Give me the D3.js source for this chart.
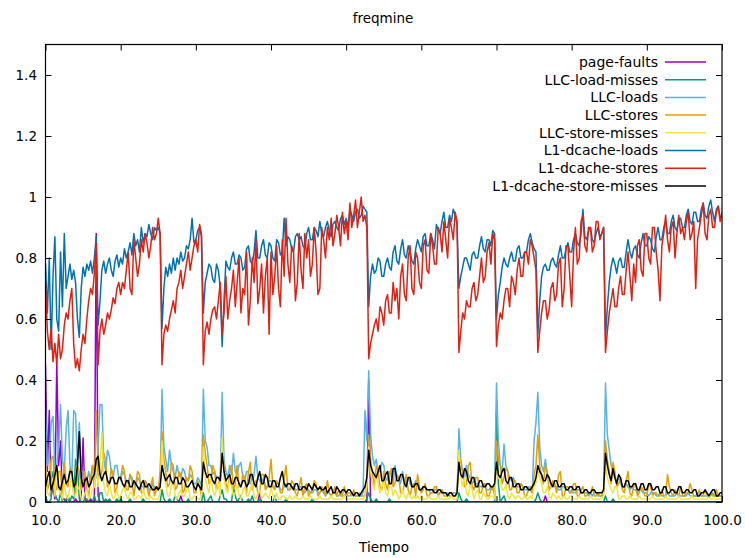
<!DOCTYPE html>
<html>
<head>
<meta charset="utf-8">
<script src="https://cdn.jsdelivr.net/npm/d3@7"></script>
<style>
  body { margin: 0; background: #fff; }
  text { font-family: "DejaVu Sans", sans-serif; }
</style>
</head>
<body>
<svg id="chart" width="745" height="558"></svg>
<script>
// Sampling grid (seconds)
const startTime = 10;
const sampleStep = 0.25;

// Series names and colours, in drawing order
const seriesNames = ["page-faults", "LLC-load-misses", "LLC-loads", "LLC-stores",
  "LLC-store-misses", "L1-dcache-loads", "L1-dcache-stores", "L1-dcache-store-misses"];
const seriesColors = ["#9400d3", "#009e73", "#56b4e9", "#e69f00",
  "#f0e442", "#0072b2", "#e51e10", "#000000"];

// Axis ticks
const xTicks = [10, 20, 30, 40, 50, 60, 70, 80, 90, 100];
const yTicks = [0, 0.2, 0.4, 0.6, 0.8, 1, 1.2, 1.4];

// Normalised counter values, one per sample (10 per row)
const pageFaults = [
  0.45,0.10,0.30,0.02,0.05,0.01,0.46,0.12,0.20,0.01,
  0.01,0,0.02,0,0,0,0.01,0,0,0.02,
  0.21,0.01,0,0,0.01,0,0,0.88,0.02,0,
  0,0,0,0,0,0,0,0,0,0,
  0,0,0,0,0,0,0,0,0,0,
  0,0,0,0,0,0,0,0,0,0,
  0,0,0,0,0,0,0,0,0,0,
  0,0,0.02,0,0,0,0,0,0,0,
  0,0,0,0,0,0,0,0,0,0,
  0,0,0,0,0,0,0,0,0,0,
  0,0,0,0,0,0,0,0,0,0,
  0,0,0,0,0.03,0,0,0,0,0,
  0,0,0,0,0,0,0,0,0,0,
  0,0,0,0,0,0,0,0,0,0,
  0,0,0,0,0,0,0,0,0,0,
  0,0,0,0,0,0,0,0,0,0,
  0,0,0,0,0,0,0,0,0,0,
  0,0,0.40,0,0,0,0,0,0,0,
  0,0,0,0,0,0,0,0,0,0,
  0,0,0,0,0,0,0,0,0,0,
  0,0,0,0,0,0,0,0,0,0,
  0,0,0,0,0,0,0,0,0,0,
  0,0,0,0,0,0,0,0,0,0,
  0,0,0,0,0,0,0,0,0,0,
  0,0,0,0,0,0,0,0,0,0,
  0,0,0,0,0,0,0,0,0,0,
  0,0,0,0,0,0,0.02,0,0,0,
  0,0,0,0,0,0,0,0,0,0,
  0,0,0,0,0,0,0,0,0,0,
  0,0,0,0,0,0,0,0,0,0,
  0,0,0,0,0,0,0,0,0,0,
  0,0,0,0,0,0,0,0,0,0,
  0,0,0,0,0,0,0,0,0,0,
  0,0,0,0,0,0,0,0,0,0,
  0,0,0,0,0,0,0,0,0,0,
  0,0,0,0,0,0,0,0,0,0,
  0
];
const llcLoadMisses = [
  0.02,0,0,0.01,0.10,0.03,0.01,0,0.03,0,
  0,0.01,0.01,0,0.02,0.01,0.14,0.12,0.01,0,
  0,0.01,0.01,0,0,0,0.02,0,0,0.03,
  0.03,0,0.01,0,0.01,0,0,0,0.01,0,
  0.01,0,0,0,0,0.01,0,0,0,0,
  0,0,0.01,0,0,0,0,0,0,0,
  0,0,0.04,0.01,0,0,0.01,0,0,0.02,
  0.01,0,0,0,0,0,0.01,0,0,0,
  0,0,0,0,0.03,0,0,0.01,0.02,0,
  0,0,0,0.02,0.04,0.01,0.01,0,0,0,
  0.05,0.02,0,0.01,0.02,0,0,0,0.01,0,
  0.02,0,0,0,0.01,0,0,0,0,0,
  0,0,0.02,0,0,0,0,0,0.01,0,
  0,0,0,0,0,0,0,0,0,0,
  0,0,0.01,0,0,0,0,0,0,0,
  0,0,0,0,0,0,0,0,0,0,
  0,0,0,0,0,0,0,0,0,0,
  0,0.01,0.03,0.01,0,0,0.01,0,0,0,
  0,0,0,0.01,0,0,0,0,0,0,
  0,0,0,0,0,0,0,0,0,0,
  0,0,0,0,0,0,0,0,0,0,
  0,0,0,0,0,0,0,0,0,0,
  0.03,0.01,0,0,0.01,0,0,0,0,0,
  0,0,0,0,0,0,0,0,0,0,
  0.30,0.06,0,0.01,0.02,0,0,0,0,0,
  0,0,0,0,0,0,0,0,0,0,
  0,0.01,0.03,0.01,0,0,0,0,0,0,
  0,0,0,0,0,0,0,0,0,0,
  0,0,0,0,0,0,0,0,0,0,
  0,0,0,0,0,0,0,0,0.02,0,
  0,0,0.01,0,0,0,0,0,0,0,
  0,0,0,0,0,0,0,0,0,0,
  0,0,0,0,0,0,0,0,0,0,
  0,0,0,0,0,0,0,0,0,0,
  0,0,0,0,0,0,0,0,0,0,
  0,0,0,0,0,0,0,0,0,0,
  0
];
const llcLoads = [
  0.30,0.12,0.15,0.26,0.28,0.10,0.12,0.18,0.32,0.14,
  0.10,0.24,0.30,0.12,0.08,0.30,0.29,0.12,0.26,0.10,
  0.10,0.08,0.07,0.10,0.06,0.12,0.10,0.08,0.18,0.32,
  0.32,0.14,0.10,0.17,0.15,0.10,0.08,0.12,0.12,0.08,
  0.07,0.10,0.09,0.07,0.06,0.09,0.08,0.06,0.05,0.08,
  0.07,0.05,0.05,0.07,0.06,0.04,0.04,0.06,0.05,0.04,
  0.05,0.06,0.37,0.18,0.14,0.10,0.17,0.12,0.10,0.08,
  0.12,0.09,0.08,0.11,0.10,0.07,0.07,0.09,0.08,0.06,
  0.06,0.08,0.07,0.05,0.37,0.20,0.18,0.12,0.12,0.09,
  0.10,0.08,0.08,0.07,0.36,0.14,0.10,0.08,0.12,0.09,
  0.16,0.10,0.09,0.12,0.13,0.08,0.07,0.10,0.10,0.06,
  0.06,0.09,0.15,0.08,0.07,0.06,0.08,0.05,0.05,0.07,
  0.07,0.05,0.05,0.06,0.06,0.04,0.04,0.05,0.06,0.04,
  0.04,0.05,0.05,0.04,0.04,0.05,0.05,0.03,0.03,0.04,
  0.04,0.03,0.03,0.04,0.04,0.03,0.03,0.04,0.03,0.02,
  0.03,0.03,0.02,0.03,0.03,0.02,0.02,0.03,0.02,0.02,
  0.03,0.02,0.02,0.03,0.03,0.02,0.02,0.02,0.02,0.03,
  0.30,0.20,0.43,0.22,0.15,0.12,0.14,0.10,0.10,0.13,
  0.12,0.08,0.07,0.10,0.09,0.06,0.12,0.08,0.08,0.06,
  0.10,0.07,0.06,0.08,0.06,0.05,0.05,0.07,0.06,0.04,
  0.04,0.05,0.05,0.04,0.04,0.03,0.03,0.04,0.04,0.03,
  0.03,0.04,0.03,0.03,0.03,0.02,0.02,0.03,0.03,0.02,
  0.24,0.14,0.10,0.08,0.12,0.09,0.08,0.06,0.07,0.06,
  0.06,0.05,0.05,0.06,0.05,0.04,0.04,0.05,0.04,0.04,
  0.39,0.20,0.12,0.10,0.19,0.12,0.10,0.08,0.07,0.08,
  0.06,0.05,0.05,0.06,0.05,0.04,0.04,0.05,0.04,0.03,
  0.20,0.26,0.36,0.18,0.12,0.10,0.14,0.09,0.08,0.06,
  0.06,0.05,0.05,0.04,0.04,0.05,0.05,0.04,0.04,0.03,
  0.04,0.03,0.03,0.04,0.04,0.03,0.03,0.03,0.03,0.02,
  0.03,0.02,0.03,0.03,0.02,0.02,0.02,0.03,0.39,0.22,
  0.17,0.12,0.10,0.08,0.07,0.08,0.06,0.05,0.05,0.06,
  0.05,0.04,0.05,0.04,0.04,0.03,0.04,0.04,0.03,0.03,
  0.03,0.02,0.03,0.03,0.03,0.02,0.02,0.03,0.02,0.02,
  0.02,0.03,0.02,0.02,0.02,0.02,0.03,0.02,0.02,0.02,
  0.02,0.02,0.03,0.02,0.02,0.02,0.02,0.02,0.03,0.02,
  0.02,0.02,0.02,0.02,0.02,0.03,0.02,0.02,0.02,0.02,
  0.02
];
const llcStores = [
  0.12,0.04,0.06,0.14,0.15,0.05,0.04,0.10,0.10,0.02,
  0.13,0.06,0.05,0.11,0.09,0.03,0.03,0.12,0.10,0.04,
  0.07,0.10,0.04,0.02,0.08,0.12,0.05,0.30,0.12,0.08,
  0.10,0.16,0.14,0.05,0.06,0.11,0.09,0.03,0.05,0.08,
  0.08,0.12,0.10,0.04,0.04,0.09,0.07,0.02,0.06,0.10,
  0.09,0.03,0.03,0.07,0.05,0.02,0.05,0.08,0.02,0.04,
  0.04,0.10,0.23,0.14,0.10,0.05,0.06,0.13,0.12,0.04,
  0.05,0.10,0.09,0.03,0.04,0.08,0.07,0.12,0.10,0.03,
  0.03,0.07,0.05,0.02,0.22,0.16,0.12,0.06,0.07,0.12,
  0.10,0.04,0.05,0.09,0.20,0.11,0.06,0.04,0.10,0.12,
  0.04,0.06,0.12,0.05,0.05,0.09,0.08,0.03,0.10,0.13,
  0.04,0.06,0.07,0.03,0.03,0.09,0.09,0.04,0.05,0.08,
  0.14,0.05,0.04,0.07,0.06,0.03,0.03,0.08,0.12,0.04,
  0.04,0.07,0.06,0.03,0.02,0.05,0.08,0.02,0.05,0.06,
  0.02,0.03,0.04,0.07,0.06,0.02,0.03,0.05,0.04,0.02,
  0.07,0.03,0.02,0.03,0.05,0.02,0.04,0.02,0.02,0.05,
  0.02,0.03,0.03,0.02,0.04,0.02,0.02,0.03,0.02,0.02,
  0.02,0.08,0.22,0.14,0.09,0.05,0.12,0.10,0.05,0.04,
  0.10,0.06,0.04,0.08,0.11,0.05,0.06,0.09,0.08,0.03,
  0.03,0.06,0.09,0.04,0.02,0.05,0.06,0.02,0.09,0.05,
  0.03,0.04,0.06,0.02,0.02,0.03,0.03,0.05,0.05,0.02,
  0.03,0.04,0.02,0.02,0.02,0.03,0.03,0.02,0.02,0.03,
  0.16,0.12,0.10,0.05,0.06,0.12,0.13,0.05,0.04,0.08,
  0.08,0.03,0.03,0.06,0.06,0.02,0.02,0.04,0.05,0.02,
  0.20,0.14,0.12,0.06,0.08,0.11,0.10,0.04,0.04,0.07,
  0.07,0.03,0.03,0.06,0.05,0.02,0.02,0.04,0.05,0.03,
  0.09,0.12,0.22,0.12,0.08,0.06,0.12,0.10,0.04,0.05,
  0.07,0.06,0.03,0.09,0.10,0.02,0.02,0.05,0.05,0.03,
  0.03,0.06,0.06,0.02,0.02,0.04,0.05,0.02,0.02,0.03,
  0.03,0.05,0.02,0.02,0.03,0.02,0.02,0.04,0.20,0.14,
  0.10,0.06,0.13,0.10,0.05,0.06,0.08,0.04,0.03,0.07,
  0.10,0.03,0.02,0.05,0.06,0.02,0.03,0.05,0.04,0.02,
  0.02,0.06,0.05,0.02,0.03,0.03,0.02,0.02,0.04,0.02,
  0.02,0.09,0.05,0.03,0.02,0.04,0.03,0.02,0.05,0.02,
  0.02,0.03,0.03,0.06,0.04,0.02,0.02,0.03,0.04,0.02,
  0.02,0.04,0.02,0.02,0.03,0.02,0.02,0.04,0.02,0.02,
  0.02
];
const llcStoreMisses = [
  0.10,0.03,0.02,0.06,0.08,0.02,0.12,0.04,0.03,0.01,
  0.06,0.02,0.01,0.05,0.09,0.02,0.02,0.04,0.05,0.01,
  0.01,0.03,0.04,0.01,0.02,0.04,0.05,0.12,0.05,0.12,
  0.23,0.06,0.03,0.02,0.06,0.03,0.01,0.02,0.04,0.01,
  0.02,0.04,0.05,0.02,0.01,0.03,0.03,0.01,0.01,0.02,
  0.02,0.01,0.04,0.02,0.01,0.01,0.02,0.01,0.01,0.01,
  0.01,0.03,0.20,0.08,0.06,0.02,0.02,0.05,0.07,0.02,
  0.01,0.03,0.04,0.02,0.02,0.04,0.05,0.01,0.01,0.02,
  0.02,0.01,0.01,0.02,0.18,0.08,0.05,0.03,0.08,0.04,
  0.02,0.04,0.06,0.02,0.21,0.08,0.04,0.03,0.08,0.05,
  0.02,0.03,0.06,0.02,0.01,0.04,0.05,0.02,0.02,0.04,
  0.07,0.02,0.01,0.03,0.04,0.01,0.02,0.03,0.02,0.01,
  0.05,0.02,0.01,0.03,0.01,0.01,0.02,0.02,0.01,0.01,
  0.02,0.01,0.01,0.02,0.01,0.01,0.01,0.02,0.01,0.01,
  0.01,0.02,0.01,0.01,0.01,0.01,0.02,0.01,0.01,0.01,
  0.01,0.01,0.02,0.01,0.01,0.01,0.01,0.01,0.01,0.02,
  0.01,0.01,0.01,0.01,0.01,0.01,0.01,0.01,0.01,0.01,
  0.02,0.05,0.18,0.10,0.06,0.04,0.09,0.06,0.03,0.05,
  0.07,0.03,0.02,0.05,0.05,0.02,0.04,0.03,0.01,0.02,
  0.04,0.02,0.01,0.03,0.02,0.01,0.02,0.01,0.02,0.01,
  0.02,0.01,0.01,0.01,0.02,0.01,0.01,0.01,0.01,0.02,
  0.01,0.01,0.01,0.01,0.01,0.01,0.02,0.01,0.01,0.01,
  0.17,0.08,0.05,0.08,0.03,0.02,0.06,0.04,0.01,0.03,
  0.04,0.01,0.01,0.03,0.02,0.01,0.01,0.02,0.02,0.01,
  0.12,0.08,0.07,0.04,0.04,0.06,0.02,0.01,0.03,0.02,
  0.01,0.02,0.02,0.01,0.01,0.02,0.01,0.01,0.02,0.01,
  0.05,0.06,0.10,0.08,0.06,0.03,0.03,0.05,0.02,0.01,
  0.03,0.02,0.01,0.02,0.01,0.01,0.02,0.01,0.01,0.02,
  0.02,0.01,0.01,0.01,0.02,0.01,0.01,0.01,0.01,0.01,
  0.02,0.01,0.01,0.01,0.01,0.01,0.01,0.02,0.12,0.08,
  0.06,0.04,0.03,0.05,0.05,0.01,0.01,0.02,0.02,0.01,
  0.01,0.02,0.01,0.01,0.01,0.01,0.02,0.01,0.01,0.01,
  0.01,0.01,0.01,0.02,0.01,0.01,0.01,0.01,0.01,0.01,
  0.02,0.01,0.01,0.01,0.01,0.01,0.01,0.02,0.01,0.01,
  0.01,0.01,0.01,0.01,0.02,0.01,0.01,0.01,0.01,0.01,
  0.01,0.01,0.01,0.02,0.01,0.01,0.01,0.01,0.01,0.01,
  0.01
];
const l1Loads = [
  0.78,0.62,0.80,0.50,0.74,0.87,0.60,0.56,0.82,0.64,
  0.88,0.70,0.74,0.78,0.73,0.76,0.72,0.60,0.54,0.70,
  0.77,0.74,0.78,0.76,0.79,0.75,0.80,0.87,0.58,0.66,
  0.76,0.79,0.75,0.78,0.80,0.76,0.74,0.79,0.81,0.77,
  0.80,0.78,0.83,0.80,0.82,0.85,0.81,0.88,0.84,0.86,
  0.82,0.90,0.85,0.88,0.87,0.91,0.88,0.86,0.90,0.89,
  0.90,0.88,0.57,0.70,0.77,0.74,0.78,0.75,0.80,0.76,
  0.80,0.78,0.82,0.79,0.80,0.84,0.83,0.86,0.93,0.85,
  0.86,0.89,0.90,0.87,0.62,0.72,0.75,0.78,0.77,0.73,
  0.72,0.78,0.76,0.70,0.51,0.66,0.79,0.77,0.76,0.80,
  0.82,0.78,0.78,0.81,0.80,0.76,0.77,0.83,0.84,0.79,
  0.78,0.82,0.89,0.80,0.80,0.84,0.86,0.81,0.80,0.85,
  0.84,0.80,0.79,0.86,0.85,0.81,0.82,0.93,0.84,0.87,
  0.86,0.83,0.82,0.87,0.88,0.86,0.87,0.84,0.83,0.88,
  0.90,0.86,0.86,0.90,0.89,0.87,0.92,0.88,0.87,0.90,
  0.92,0.89,0.87,0.91,0.92,0.90,0.89,0.93,0.94,0.91,
  0.93,0.90,0.96,0.94,0.92,0.95,0.96,0.93,0.94,0.97,
  0.96,0.95,0.64,0.74,0.78,0.75,0.76,0.80,0.79,0.74,
  0.74,0.78,0.80,0.77,0.76,0.82,0.84,0.79,0.78,0.83,
  0.86,0.81,0.80,0.84,0.82,0.79,0.78,0.83,0.86,0.84,
  0.82,0.87,0.88,0.84,0.84,0.88,0.86,0.83,0.91,0.89,
  0.88,0.92,0.95,0.90,0.90,0.94,0.92,0.96,0.94,0.91,
  0.70,0.74,0.77,0.80,0.80,0.78,0.76,0.81,0.82,0.80,
  0.80,0.84,0.87,0.83,0.82,0.86,0.86,0.84,0.89,0.88,
  0.60,0.68,0.72,0.77,0.80,0.78,0.77,0.80,0.82,0.79,
  0.79,0.83,0.84,0.80,0.80,0.82,0.82,0.86,0.88,0.85,
  0.83,0.82,0.55,0.66,0.74,0.77,0.78,0.76,0.76,0.79,
  0.80,0.78,0.77,0.81,0.84,0.80,0.80,0.83,0.85,0.82,
  0.82,0.86,0.88,0.85,0.84,0.88,0.96,0.87,0.86,0.89,
  0.90,0.86,0.85,0.88,0.90,0.87,0.88,0.90,0.54,0.64,
  0.72,0.77,0.80,0.78,0.75,0.79,0.80,0.77,0.77,0.82,
  0.86,0.82,0.80,0.83,0.84,0.81,0.80,0.85,0.88,0.84,
  0.84,0.87,0.86,0.83,0.82,0.87,0.90,0.86,0.86,0.90,
  0.92,0.88,0.88,0.92,0.94,0.90,0.89,0.93,0.93,0.90,
  0.90,0.94,0.96,0.92,0.91,0.95,0.95,0.92,0.92,0.96,
  0.98,0.94,0.93,0.97,0.99,0.95,0.92,0.96,0.97,0.93,
  0.94
];
const l1Stores = [
  0.72,0.56,0.50,0.57,0.46,0.52,0.45,0.55,0.47,0.50,
  0.58,0.62,0.60,0.66,0.70,0.52,0.44,0.47,0.43,0.50,
  0.55,0.52,0.60,0.66,0.70,0.68,0.75,0.85,0.45,0.56,
  0.60,0.55,0.58,0.62,0.60,0.63,0.67,0.65,0.70,0.72,
  0.68,0.72,0.70,0.76,0.82,0.70,0.68,0.86,0.80,0.74,
  0.78,0.86,0.82,0.88,0.85,0.80,0.84,0.90,0.86,0.88,
  0.93,0.88,0.45,0.55,0.58,0.56,0.60,0.63,0.66,0.62,
  0.70,0.72,0.76,0.70,0.74,0.78,0.82,0.76,0.80,0.84,
  0.86,0.82,0.91,0.88,0.45,0.56,0.59,0.55,0.60,0.63,
  0.64,0.60,0.66,0.72,0.55,0.62,0.74,0.60,0.66,0.70,
  0.76,0.64,0.72,0.80,0.62,0.70,0.68,0.82,0.58,0.66,
  0.80,0.72,0.86,0.65,0.70,0.78,0.62,0.74,0.80,0.55,
  0.82,0.68,0.74,0.84,0.70,0.64,0.86,0.74,0.93,0.78,
  0.72,0.84,0.82,0.66,0.72,0.88,0.76,0.70,0.88,0.80,
  0.86,0.74,0.78,0.90,0.82,0.68,0.70,0.90,0.86,0.80,
  0.90,0.86,0.93,0.84,0.88,0.94,0.90,0.84,0.95,0.88,
  0.92,0.86,0.98,0.90,0.94,0.99,0.90,0.95,1.00,0.92,
  0.94,0.90,0.47,0.52,0.55,0.58,0.60,0.56,0.64,0.62,
  0.58,0.66,0.68,0.62,0.62,0.72,0.66,0.70,0.60,0.74,
  0.78,0.68,0.66,0.80,0.84,0.70,0.68,0.82,0.80,0.72,
  0.70,0.84,0.86,0.76,0.75,0.88,0.84,0.78,0.78,0.90,
  0.88,0.82,0.92,0.86,0.80,0.93,0.90,0.86,0.95,0.92,
  0.49,0.56,0.62,0.60,0.66,0.64,0.64,0.70,0.72,0.66,
  0.68,0.74,0.80,0.72,0.74,0.82,0.85,0.78,0.88,0.86,
  0.51,0.58,0.62,0.60,0.66,0.70,0.70,0.64,0.74,0.72,
  0.68,0.76,0.80,0.74,0.74,0.82,0.82,0.78,0.86,0.84,
  0.80,0.76,0.49,0.56,0.62,0.66,0.66,0.60,0.63,0.70,
  0.72,0.66,0.68,0.78,0.80,0.64,0.70,0.84,0.84,0.74,
  0.64,0.82,0.90,0.78,0.80,0.92,0.94,0.84,0.82,0.90,
  0.90,0.82,0.84,0.92,0.92,0.86,0.88,0.90,0.49,0.56,
  0.62,0.66,0.70,0.64,0.64,0.70,0.74,0.68,0.68,0.76,
  0.82,0.74,0.66,0.78,0.72,0.84,0.86,0.76,0.74,0.88,
  0.88,0.80,0.78,0.90,0.90,0.82,0.76,0.66,0.84,0.88,
  0.94,0.86,0.82,0.90,0.92,0.80,0.88,0.94,0.88,0.90,
  0.86,0.92,0.95,0.86,0.88,0.92,0.70,0.86,0.90,0.94,
  0.98,0.88,0.86,0.94,0.96,0.90,0.90,0.95,0.97,0.92,
  0.95
];
const l1StoreMisses = [
  0.05,0.08,0.10,0.04,0.06,0.09,0.12,0.05,0.04,0.07,
  0.09,0.06,0.07,0.10,0.10,0.05,0.06,0.12,0.23,0.08,
  0.05,0.07,0.08,0.05,0.06,0.08,0.09,0.14,0.15,0.09,
  0.07,0.09,0.10,0.07,0.06,0.08,0.08,0.06,0.06,0.08,
  0.08,0.06,0.05,0.07,0.07,0.05,0.05,0.07,0.06,0.05,
  0.04,0.06,0.07,0.05,0.05,0.06,0.05,0.04,0.04,0.05,
  0.04,0.05,0.12,0.09,0.07,0.08,0.09,0.07,0.06,0.08,
  0.08,0.06,0.06,0.08,0.07,0.05,0.05,0.06,0.07,0.05,
  0.04,0.06,0.05,0.04,0.13,0.10,0.08,0.09,0.09,0.07,
  0.06,0.08,0.08,0.07,0.16,0.10,0.07,0.08,0.09,0.06,
  0.06,0.08,0.08,0.06,0.05,0.07,0.07,0.05,0.06,0.09,
  0.09,0.06,0.05,0.08,0.10,0.06,0.06,0.09,0.08,0.05,
  0.05,0.07,0.07,0.05,0.05,0.08,0.10,0.06,0.05,0.06,
  0.06,0.05,0.04,0.06,0.06,0.04,0.04,0.05,0.05,0.04,
  0.06,0.05,0.04,0.06,0.05,0.04,0.05,0.04,0.04,0.05,
  0.03,0.04,0.05,0.03,0.03,0.05,0.04,0.03,0.04,0.04,
  0.03,0.04,0.04,0.03,0.02,0.03,0.03,0.02,0.03,0.04,
  0.05,0.08,0.17,0.12,0.10,0.09,0.08,0.10,0.12,0.07,
  0.07,0.09,0.10,0.06,0.06,0.11,0.11,0.07,0.07,0.09,
  0.09,0.06,0.05,0.08,0.08,0.05,0.05,0.06,0.06,0.04,
  0.04,0.05,0.05,0.04,0.04,0.04,0.04,0.03,0.03,0.04,
  0.04,0.03,0.03,0.03,0.02,0.03,0.03,0.02,0.02,0.03,
  0.13,0.09,0.08,0.11,0.10,0.07,0.06,0.08,0.08,0.05,
  0.05,0.07,0.07,0.05,0.05,0.06,0.06,0.05,0.05,0.06,
  0.13,0.09,0.08,0.10,0.11,0.07,0.06,0.08,0.08,0.05,
  0.05,0.06,0.06,0.04,0.04,0.05,0.05,0.04,0.04,0.05,
  0.06,0.08,0.12,0.10,0.09,0.07,0.07,0.09,0.08,0.06,
  0.05,0.07,0.07,0.05,0.05,0.06,0.06,0.04,0.04,0.05,
  0.05,0.04,0.04,0.05,0.05,0.03,0.03,0.04,0.04,0.03,
  0.03,0.04,0.04,0.03,0.03,0.03,0.03,0.04,0.16,0.12,
  0.09,0.07,0.11,0.08,0.06,0.09,0.08,0.05,0.05,0.07,
  0.07,0.05,0.05,0.06,0.06,0.04,0.04,0.06,0.06,0.04,
  0.04,0.06,0.06,0.04,0.04,0.05,0.05,0.03,0.03,0.05,
  0.05,0.03,0.03,0.04,0.04,0.03,0.03,0.05,0.05,0.03,
  0.03,0.04,0.04,0.03,0.03,0.04,0.04,0.02,0.02,0.03,
  0.03,0.04,0.03,0.02,0.03,0.04,0.04,0.02,0.02,0.03,
  0.03
];

const seriesValues = [pageFaults, llcLoadMisses, llcLoads, llcStores,
  llcStoreMisses, l1Loads, l1Stores, l1StoreMisses];

// Layout
const svg = d3.select("#chart");
const plot = { left: 45.5, right: 722, top: 44.5, bottom: 502 };
const tickFont = 13.5;
const legendFont = 14;

const x = d3.scaleLinear().domain([10, 100]).range([plot.left, plot.right]);
const y = d3.scaleLinear().domain([0, 1.5]).range([plot.bottom, plot.top]);

svg.append("rect").attr("width", 745).attr("height", 558).attr("fill", "#fff");

svg.append("clipPath").attr("id", "plotClip")
  .append("rect")
  .attr("x", plot.left).attr("y", plot.top)
  .attr("width", plot.right - plot.left).attr("height", plot.bottom - plot.top);

// Data lines
const line = d3.line()
  .x((d, i) => x(startTime + i * sampleStep))
  .y(d => y(d));

const lines = svg.append("g").attr("clip-path", "url(#plotClip)");
seriesValues.forEach((vals, k) => {
  lines.append("path")
    .datum(vals)
    .attr("fill", "none")
    .attr("stroke", seriesColors[k])
    .attr("stroke-width", 1.5)
    .attr("stroke-linejoin", "round")
    .attr("d", line);
});

// Axes with inward ticks on all four sides
const yFmt = d => String(+d.toFixed(1));
const xFmt = d3.format(".1f");

const gLeft = svg.append("g").attr("transform", `translate(${plot.left},0)`)
  .call(d3.axisLeft(y).tickValues(yTicks).tickSize(-6).tickPadding(8.5).tickFormat(yFmt));
const gBottom = svg.append("g").attr("transform", `translate(0,${plot.bottom})`)
  .call(d3.axisBottom(x).tickValues(xTicks).tickSize(-6).tickPadding(13).tickFormat(xFmt));
const gTop = svg.append("g").attr("transform", `translate(0,${plot.top})`)
  .call(d3.axisTop(x).tickValues(xTicks).tickSize(-6).tickFormat(""));
const gRight = svg.append("g").attr("transform", `translate(${plot.right},0)`)
  .call(d3.axisRight(y).tickValues(yTicks).tickSize(-6).tickFormat(""));

[gLeft, gBottom, gTop, gRight].forEach(g => {
  g.select(".domain").remove();
  g.selectAll("line").attr("stroke", "#000").attr("stroke-width", 1);
  g.selectAll("text").attr("fill", "#000")
    .style("font-family", '"DejaVu Sans", sans-serif')
    .style("font-size", tickFont + "px");
});

// Frame
svg.append("rect")
  .attr("x", plot.left).attr("y", plot.top)
  .attr("width", plot.right - plot.left).attr("height", plot.bottom - plot.top)
  .attr("fill", "none").attr("stroke", "#000").attr("stroke-width", 1.2);

// Title and axis label
svg.append("text").attr("x", 383).attr("y", 23)
  .attr("text-anchor", "middle").style("font-size", tickFont + "px")
  .text("freqmine");
svg.append("text").attr("x", 384).attr("y", 552)
  .attr("text-anchor", "middle").style("font-size", tickFont + "px")
  .text("Tiempo");

// Legend
const legend = svg.append("g");
seriesNames.forEach((name, k) => {
  const cy = 62 + k * 17.7;
  legend.append("text")
    .attr("x", 658).attr("y", cy).attr("dy", "0.35em")
    .attr("text-anchor", "end").style("font-size", legendFont + "px")
    .text(name);
  legend.append("line")
    .attr("x1", 665).attr("x2", 706).attr("y1", cy).attr("y2", cy)
    .attr("stroke", seriesColors[k]).attr("stroke-width", 1.5);
});
</script>
</body>
</html>
